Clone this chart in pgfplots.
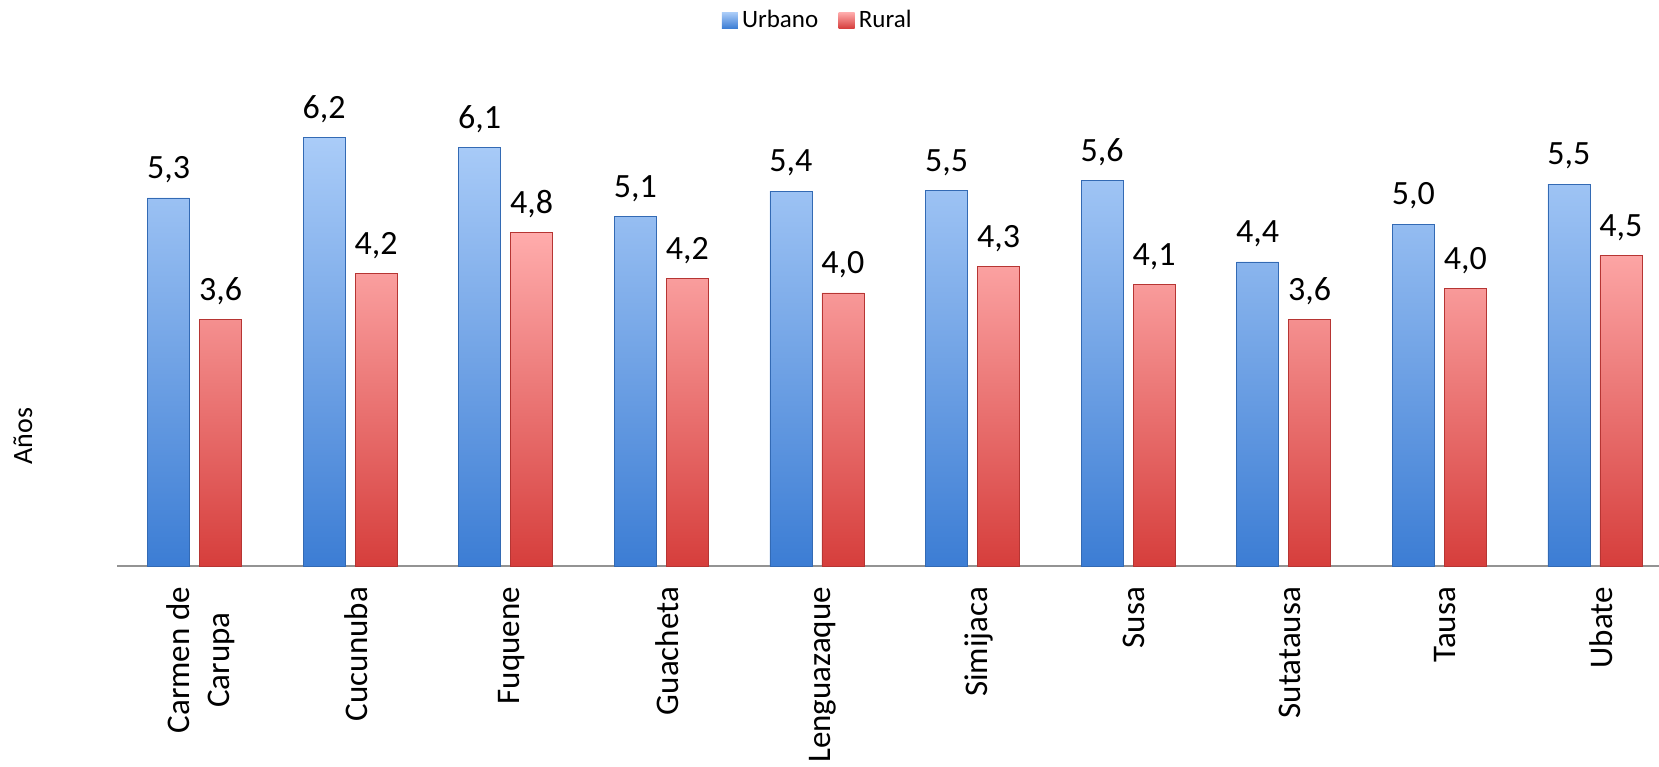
\documentclass[border=0pt]{standalone}
\usepackage{pgfplots}
\pgfplotsset{compat=1.18}
\usepackage{fontspec}
\setmainfont{Carlito}
\definecolor{bluetop}{RGB}{170,204,248}
\definecolor{bluebot}{RGB}{60,125,212}
\definecolor{redtop}{RGB}{255,172,172}
\definecolor{redbot}{RGB}{214,62,60}
\begin{document}
\begin{tikzpicture}
\useasboundingbox (-58.5pt,-100pt) rectangle (771pt,283pt);
\begin{axis}[
  at={(0pt,0pt)}, anchor=south west,
  x=77.8pt, y=34.4pt,
  xmin=0.502, xmax=10.41, ymin=0, ymax=8.23,
  ybar=5pt, bar width=21pt,
  hide y axis,
  axis x line=bottom,
  x axis line style={draw=gray!85, line width=1pt, -},
  xtick={1,2,3,4,5,6,7,8,9,10},
  xticklabels={{Carmen de\\Carupa},Cucunuba,Fuquene,Guacheta,Lenguazaque,Simijaca,Susa,Sutatausa,Tausa,Ubate},
  major tick length=0pt,
  xticklabel style={rotate=90, anchor=east, align=center, font=\fontsize{16.5}{20}\selectfont, xshift=-7pt, yshift=-3pt},
  point meta=explicit,
  /pgf/number format/assume math mode=true,
  /pgf/number format/use comma,
  /pgf/number format/fixed,
  /pgf/number format/fixed zerofill,
  /pgf/number format/precision=1,
  nodes near coords,
  nodes near coords style={font=\fontsize{17}{20}\selectfont, text=black, yshift=4pt},
  legend style={at={(0.455,1)}, anchor=north, yshift=-1pt, draw=none, fill=none,
    legend columns=2, font=\fontsize{12.5}{14}\selectfont,
    /tikz/every even column/.append style={column sep=8pt}},
  legend image code/.code={\path[#1, draw opacity=0] (0pt,-4pt) rectangle (8pt,4pt);},
]
\addplot[draw=bluebot!85!black, line width=0.3pt, top color=bluetop, bottom color=bluebot]
  coordinates {(1,5.35) [5.3] (2,6.23) [6.2] (3,6.08) [6.1] (4,5.08) [5.1] (5,5.45) [5.4]
               (6,5.46) [5.5] (7,5.60) [5.6] (8,4.42) [4.4] (9,4.97) [5.0] (10,5.55) [5.5]};
\addlegendentry{Urbano}
\addplot[draw=redbot!85!black, line width=0.3pt, top color=redtop, bottom color=redbot]
  coordinates {(1,3.58) [3.6] (2,4.25) [4.2] (3,4.85) [4.8] (4,4.18) [4.2] (5,3.97) [4.0]
               (6,4.35) [4.3] (7,4.09) [4.1] (8,3.58) [3.6] (9,4.03) [4.0] (10,4.51) [4.5]};
\addlegendentry{Rural}
\end{axis}
\node[rotate=90, font=\fontsize{14}{16}\selectfont] at (-47pt,65pt) {Años};
\end{tikzpicture}
\end{document}
